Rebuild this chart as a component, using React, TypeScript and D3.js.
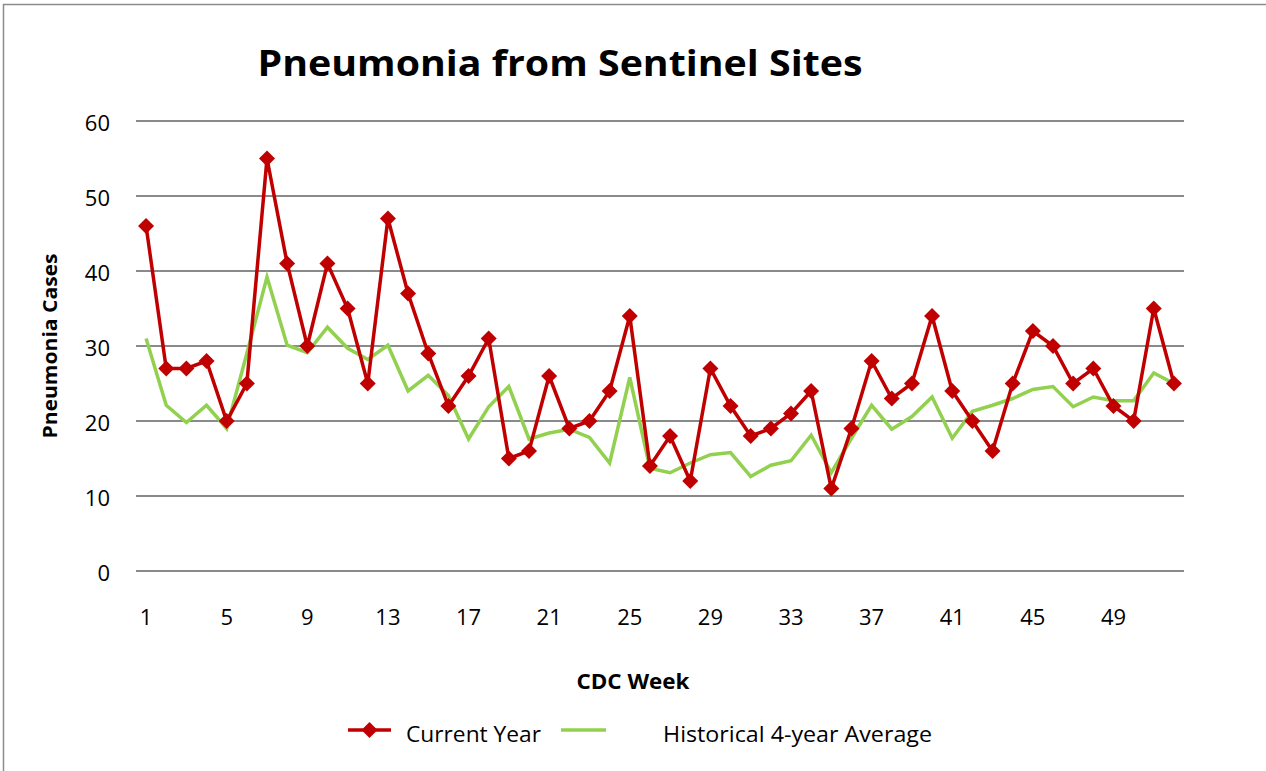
import * as d3 from 'd3'

const weeks = d3.range(1, 53)
const currentYear = [
  46, 27, 27, 28, 20, 25, 55, 41, 30, 41, 35, 25, 47, 37, 29, 22, 26, 31, 15, 16,
  26, 19, 20, 24, 34, 14, 18, 12, 27, 22, 18, 19, 21, 24, 11, 19, 28, 23, 25, 34,
  24, 20, 16, 25, 32, 30, 25, 27, 22, 20, 35, 25,
]
const historicalAvg = [
  31, 22.1, 19.8, 22.1, 19, 29, 39.2, 30.1, 29.1, 32.5, 29.7, 28.2, 30.1, 24, 26.1, 23.4, 17.6, 21.9, 24.6, 17.6,
  18.4, 18.9, 17.8, 14.4, 25.8, 13.7, 13.1, 14.4, 15.5, 15.8, 12.6, 14.1, 14.7, 18.1, 13.1, 17.7, 22.1, 18.9, 20.6, 23.2,
  17.7, 21.3, 22.1, 23, 24.2, 24.6, 21.9, 23.2, 22.7, 22.7, 26.4, 25,
]
const yTicks = [0, 10, 20, 30, 40, 50, 60]
const xTickWeeks = [1, 5, 9, 13, 17, 21, 25, 29, 33, 37, 41, 45, 49]

const RED = '#C00000'
const GREEN = '#92D050'
const FONT = "'Open Sans', 'Liberation Sans', sans-serif"

export default function App() {
  const width = 1266
  const height = 771
  const plot = { left: 136, right: 1184, top: 121, bottom: 571 }

  const xBand = d3.scaleBand<number>().domain(weeks).range([plot.left, plot.right]).padding(0)
  const x = (w: number) => (xBand(w) ?? 0) + xBand.bandwidth() / 2
  const y = d3.scaleLinear().domain([0, 60]).range([plot.bottom, plot.top])

  const line = d3.line<number>().x((_, i) => x(weeks[i])).y(d => y(d))
  const diamond = (cx: number, cy: number, r: number) =>
    `M${cx},${cy - r}L${cx + r},${cy}L${cx},${cy + r}L${cx - r},${cy}Z`

  return (
    <svg width={width} height={height} style={{ position: 'fixed', left: 0, top: 0, background: '#fff' }}>
      <rect x={3.5} y={4.5} width={width} height={height} fill="#fff" stroke="#8c8c8c" strokeWidth={1.5} />

      <text x={560} y={76} textAnchor="middle" fontFamily={FONT} fontWeight="bold" fontSize={36}
        textLength={605} lengthAdjust="spacingAndGlyphs" fill="#000">
        Pneumonia from Sentinel Sites
      </text>

      {yTicks.map(t => (
        <g key={t}>
          <line x1={plot.left} x2={plot.right} y1={y(t)} y2={y(t)} stroke="#8a8a8a" strokeWidth={2} />
          <text x={110} y={y(t) + 10} textAnchor="end" fontFamily={FONT} fontSize={22} fill="#000">{t}</text>
        </g>
      ))}

      {xTickWeeks.map(w => (
        <text key={w} x={x(w)} y={625} textAnchor="middle" fontFamily={FONT} fontSize={22} fill="#000">{w}</text>
      ))}

      <path d={line(historicalAvg) ?? ''} fill="none" stroke={GREEN} strokeWidth={3.5} strokeLinejoin="miter" />
      <path d={line(currentYear) ?? ''} fill="none" stroke={RED} strokeWidth={3.5} strokeLinejoin="miter" />
      {currentYear.map((v, i) => (
        <path key={i} d={diamond(x(weeks[i]), y(v), 8)} fill={RED} />
      ))}

      <text transform="translate(57,346) rotate(-90)" textAnchor="middle" fontFamily={FONT} fontWeight="bold"
        fontSize={19} textLength={185} lengthAdjust="spacingAndGlyphs" fill="#000">
        Pneumonia Cases
      </text>
      <text x={633} y={689} textAnchor="middle" fontFamily={FONT} fontWeight="bold" fontSize={21}
        textLength={113} lengthAdjust="spacingAndGlyphs" fill="#000">
        CDC Week
      </text>

      <line x1={348} x2={391} y1={730} y2={730} stroke={RED} strokeWidth={3.5} />
      <path d={diamond(369.5, 730, 8)} fill={RED} />
      <text x={406} y={742} fontFamily={FONT} fontSize={21} textLength={135} lengthAdjust="spacingAndGlyphs" fill="#000">
        Current Year
      </text>
      <line x1={561} x2={606} y1={730} y2={730} stroke={GREEN} strokeWidth={3.5} />
      <text x={663} y={742} fontFamily={FONT} fontSize={21} textLength={269} lengthAdjust="spacingAndGlyphs" fill="#000">
        Historical 4-year Average
      </text>
    </svg>
  )
}
